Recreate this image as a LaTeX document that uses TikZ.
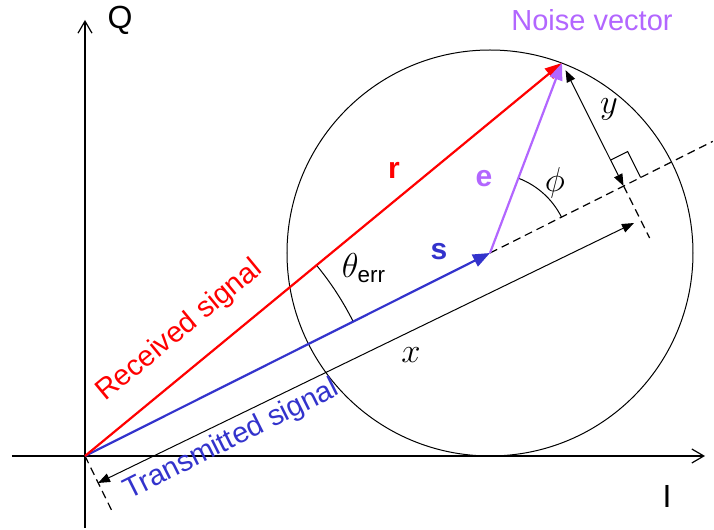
\documentclass[tikz,border=0pt]{standalone}
\usepackage{amsmath}
\usepackage{fontspec}
\setmainfont{Liberation Sans}
\usetikzlibrary{arrows.meta,calc,angles}
\definecolor{sigred}{RGB}{255,0,0}
\definecolor{sigblue}{RGB}{51,51,204}
\definecolor{noiseviolet}{RGB}{178,102,255}

\begin{document}
\begin{tikzpicture}[x=0.5pt, y=0.5pt,
  ax/.style={line width=0.6pt, -{Straight Barb[length=6pt,width=7pt]}},
  vec/.style={line width=1.1pt, -{Triangle[length=8.5pt,width=6.5pt]}},
  dim/.style={line width=0.5pt, {Triangle[length=6pt,width=4.5pt]}-{Triangle[length=6pt,width=4.5pt]}},
  guide/.style={line width=0.6pt, dash pattern=on 4pt off 2.5pt},
  lbl/.style={font=\fontsize{14.5}{17}\selectfont},
  axl/.style={font=\fontsize{16}{19}\selectfont},
  vlbl/.style={font=\fontsize{15}{18}\selectfont\bfseries},
  mlbl/.style={font=\fontsize{16}{19}\selectfont}
]
\useasboundingbox (-85,-74) rectangle (629,456);
% axes
\coordinate (O) at (0,0);
\coordinate (Iw) at (-73,0);
\coordinate (Ie) at (620,0);
\coordinate (Qs) at (0,-72);
\coordinate (Qn) at (0,436);
\draw[ax] (Iw) -- (Ie);
\draw[ax] (Qs) -- (Qn);
% signal points
\coordinate (S) at (405,203);
\coordinate (R) at (477,393);
\coordinate (D) at ($(O)!1.55!(S)$);
\coordinate (F) at ($(O)!(R)!(S)$);
\coordinate (Ot) at (27,-55);
\coordinate (Ft) at ($(F)+(26,-52)$);
\coordinate (x1) at (13,-27);
\coordinate (x2) at (549,233);
\coordinate (y1) at ($(R)!4pt!(F)$);
\draw[line width=0.5pt] (S) circle[radius=203];
% guides and dimensions
\draw[guide] (S) -- (D);
\draw[guide] (O) -- (Ot);
\draw[guide] (F) -- (Ft);
\draw[dim] (x1) -- (x2);
\draw[dim] (y1) -- (F);
\draw[line width=0.5pt] (F) ++(17,8.5) -- ++(-13,26) -- ++(-17,-8.5);
\pic[draw, line width=0.5pt, angle radius=150pt] {angle=S--O--R};
\pic[draw, line width=0.5pt, angle radius=40pt] {angle=D--S--R};
% vectors
\draw[vec, sigblue] (O) -- (S);
\draw[vec, sigred] (O) -- (R);
\draw[vec, noiseviolet] (S) -- (R);
% labels
\node[axl] (q) at (35,436) {Q};
\node[axl] (i) at (582,-40) {I};
\node[lbl, noiseviolet] (nv) at (507,436) {Noise vector};
\node[vlbl, sigred] (rl) at (309,286) {r};
\node[vlbl, noiseviolet] (el) at (399,277) {e};
\node[vlbl, sigblue] (sl) at (354,204) {s};
\node[mlbl] (th) at (279,188) {$\theta_{\text{err}}$};
\node[mlbl] (ph) at (470,273) {$\phi$};
\node[mlbl] (yl) at (524,347) {$y$};
\node[mlbl] (xl) at (326,101) {$x$};
\node[lbl, sigred, rotate=39.5] (rec) at (95,125) {Received signal};
\node[lbl, sigblue, rotate=26.6] (tra) at (147,16) {Transmitted signal};
\end{tikzpicture}
\end{document}
